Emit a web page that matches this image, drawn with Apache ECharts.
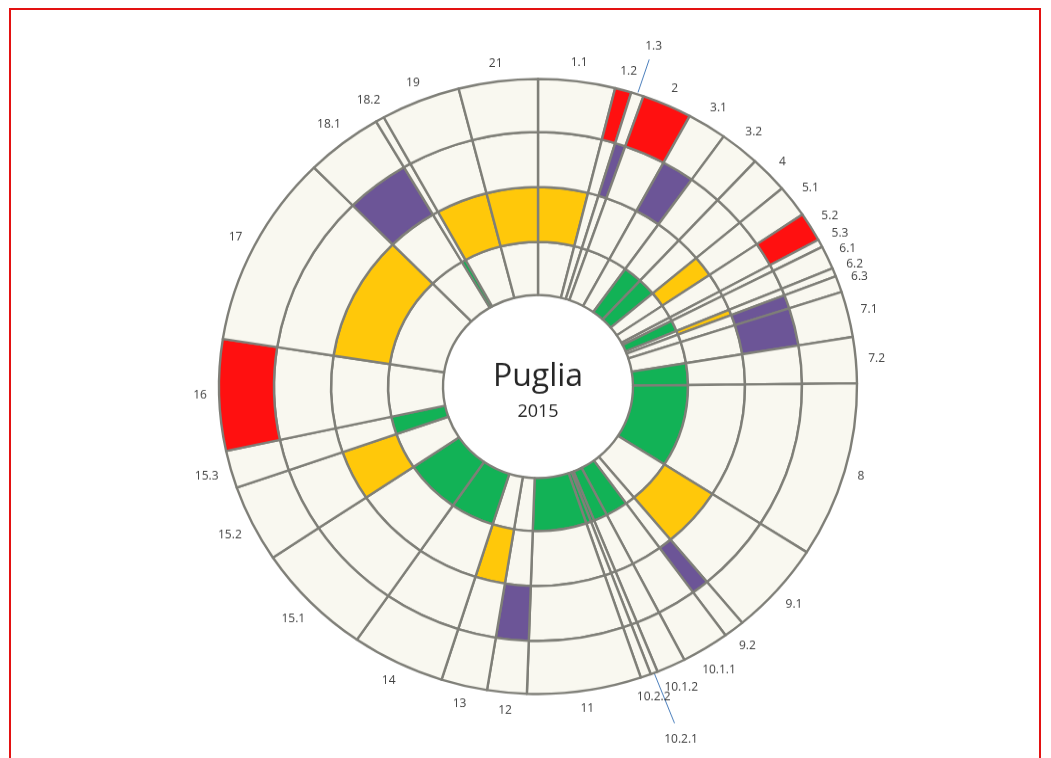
<!DOCTYPE html>
<html>
<head>
<meta charset="utf-8">
<title>Puglia 2015</title>
<script src="https://cdn.jsdelivr.net/npm/echarts@6/dist/echarts.min.js"></script>
<style>
  html, body { margin: 0; padding: 0; width: 1051px; height: 758px; overflow: hidden; background: #ffffff; }
  #frame { position: absolute; left: 9px; top: 8px; width: 1032px; height: 800px; border: 2px solid #e31212; box-sizing: border-box; }
  /* the doughnut is drawn as a circle, then flattened slightly to an ellipse */
  #chart { position: absolute; left: 0; top: 0; width: 1051px; height: 800px; transform-origin: 538px 386.5px; transform: scaleY(0.964); }
</style>
</head>
<body>
<div id="frame"></div>
<div id="chart"></div>
<script>
// Measures, clockwise from 12 o'clock
const categories = ['1.1','1.2','1.3','2','3.1','3.2','4','5.1','5.2','5.3','6.1','6.2','6.3','7.1','7.2','8','9.1','9.2',
  '10.1.1','10.1.2','10.2.1','10.2.2','11','12','13','14','15.1','15.2','15.3','16','17','18.1','18.2','19','21'];
// Weight of each measure (angular share of the rings)
const shares = [14.0,3.0,2.3,9.1,7.2,7.3,7.0,6.1,5.5,1.5,4.4,1.6,3.1,8.6,8.7,33.2,17.6,3.8,
  8.7,5.3,1.3,1.9,20.8,7.2,8.4,17.0,21.6,14.6,7.1,21.0,36.5,14.1,1.6,14.5,14.4];
// Highlighted cells per ring (1 = highlighted), inner ring first
const ringGreen  = [0,0,0,0,0,1,1,0,0,0,1,0,0,0,1,1,0,0,1,1,1,1,1,0,0,1,1,0,1,0,0,0,1,0,0];
const ringYellow = [1,0,0,0,0,0,0,1,0,0,0,1,0,0,0,0,1,0,0,0,0,0,0,0,1,0,0,1,0,0,1,0,0,1,1];
const ringPurple = [0,0,1,0,1,0,0,0,0,0,0,0,1,1,0,0,0,1,0,0,0,0,0,1,0,0,0,0,0,0,0,1,0,0,0];
const ringRed    = [0,1,0,1,0,0,0,0,1,0,0,0,0,0,0,0,0,0,0,0,0,0,0,0,0,0,0,0,0,1,0,0,0,0,0];
const centerTitle = 'Puglia';
const centerYear = '2015';
// Labels that sit further out with a leader line
const ledLabels = { '1.3': { line: [2, 38], text: 52 }, '10.2.1': { line: [0, 56], text: 74 } };

const CX = 538, CY = 386.5;
const RINGS = [[95, 150], [150, 207], [207, 264], [264, 319]];
const CREAM = '#f9f8f0';
const FONT = '"Open Sans", "DejaVu Sans", sans-serif';

const total = shares.reduce((a, b) => a + b, 0);
const midShare = [];
shares.reduce((acc, v) => { midShare.push(acc + v / 2); return acc + v; }, 0);

function ringSeries(flags, color, radius, withLabels) {
  return {
    type: 'pie',
    center: [CX, CY],
    radius: radius,
    startAngle: 90,
    clockwise: true,
    avoidLabelOverlap: false,
    silent: true,
    animation: false,
    itemStyle: { borderColor: '#7f7f78', borderWidth: 2.4 },
    emphasis: { disabled: true },
    label: withLabels ? {
      show: true, position: 'outside', formatter: '{b}',
      color: '#404040', fontSize: 12, fontFamily: FONT
    } : { show: false },
    labelLine: { show: false },
    labelLayout: withLabels ? placeLabel : undefined,
    data: categories.map((name, i) => {
      const item = { name: name, value: shares[i], itemStyle: { color: flags[i] ? color : CREAM } };
      if (withLabels && ledLabels[name]) {
        item.labelLine = { show: true, lineStyle: { color: '#4a7ebb', width: 1 } };
      }
      return item;
    })
  };
}

function placeLabel(p) {
  const name = categories[p.dataIndex];
  const a = midShare[p.dataIndex] / total * Math.PI * 2;
  const s = Math.sin(a), c = Math.cos(a);
  const R = RINGS[3][1];
  const pt = r => [CX + r * s, CY - r * c];
  const led = ledLabels[name];
  if (led) {
    const p1 = pt(R + led.line[0]), p2 = pt(R + led.line[1]);
    const q = pt(R + led.text);
    return { x: q[0], y: q[1], align: 'center', verticalAlign: 'middle', labelLinePoints: [p1, p2, p2] };
  }
  const hw = p.labelRect.width / 2, hh = p.labelRect.height / 2;
  const q = pt(R + 12 + hw * Math.abs(s) + hh * Math.abs(c));
  return { x: q[0], y: q[1], align: 'center', verticalAlign: 'middle' };
}

const chart = echarts.init(document.getElementById('chart'), null, { renderer: 'canvas' });
chart.setOption({
  backgroundColor: 'transparent',
  animation: false,
  series: [
    ringSeries(ringGreen,  '#12b256', RINGS[0], false),
    ringSeries(ringYellow, '#ffc80a', RINGS[1], false),
    ringSeries(ringPurple, '#6c5597', RINGS[2], false),
    ringSeries(ringRed,    '#ff1010', RINGS[3], true)
  ],
  graphic: [
    { type: 'text', x: CX, y: 377, silent: true,
      style: { text: centerTitle, fontSize: 32, fontFamily: FONT, fill: '#262626', align: 'center', verticalAlign: 'middle' } },
    { type: 'text', x: CX, y: 413, silent: true,
      style: { text: centerYear, fontSize: 18, fontFamily: FONT, fill: '#262626', align: 'center', verticalAlign: 'middle' } }
  ]
});
</script>
</body>
</html>
